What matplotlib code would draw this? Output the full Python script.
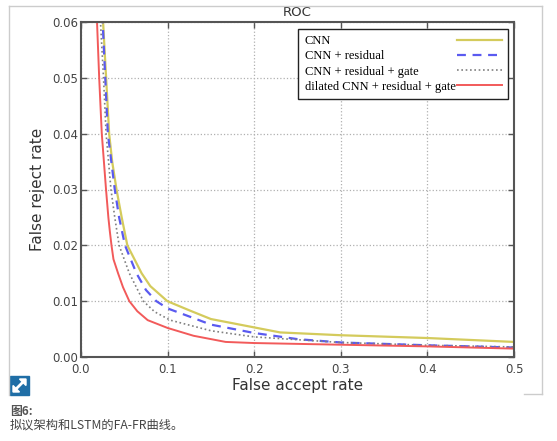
import matplotlib
matplotlib.use("Agg")
import matplotlib.pyplot as plt
from matplotlib.patches import Rectangle, Polygon
from matplotlib.lines import Line2D

# ROC curves (false accept rate vs false reject rate)
cnn_fa = [0.022, 0.0255, 0.029, 0.0325, 0.036, 0.041, 0.047, 0.0535, 0.070, 0.08, 0.0997, 0.126, 0.15, 0.2, 0.23, 0.3, 0.4, 0.5]
cnn_fr = [0.075, 0.06, 0.05, 0.04, 0.035, 0.03, 0.025, 0.02, 0.015, 0.0127, 0.01, 0.0083, 0.0068, 0.0053, 0.0044, 0.0039, 0.0034, 0.0027]

res_fa = [0.021, 0.025, 0.028, 0.031, 0.039, 0.044, 0.0508, 0.064, 0.075, 0.087, 0.1, 0.126, 0.15, 0.2, 0.25, 0.3, 0.4, 0.5]
res_fr = [0.075, 0.06, 0.05, 0.04, 0.03, 0.025, 0.02, 0.015, 0.012, 0.01, 0.0087, 0.0072, 0.0058, 0.0043, 0.0032, 0.0026, 0.0021, 0.0017]

gate_fa = [0.019, 0.0225, 0.026, 0.029, 0.0346, 0.039, 0.044, 0.0558, 0.072, 0.085, 0.103, 0.15, 0.2, 0.3, 0.4, 0.5]
gate_fr = [0.075, 0.06, 0.05, 0.04, 0.03, 0.025, 0.02, 0.015, 0.01, 0.0081, 0.0066, 0.0047, 0.0036, 0.0026, 0.0021, 0.0018]

dil_fa = [0.015, 0.0185, 0.021, 0.024, 0.0289, 0.0316, 0.0333, 0.0352, 0.0375, 0.0428, 0.0485, 0.0558, 0.065, 0.077, 0.1, 0.13, 0.167, 0.2, 0.3, 0.4, 0.5]
dil_fr = [0.075, 0.06, 0.05, 0.04, 0.03, 0.025, 0.0225, 0.02, 0.0175, 0.015, 0.0125, 0.01, 0.0082, 0.0066, 0.0052, 0.0038, 0.0027, 0.0025, 0.0022, 0.0019, 0.0015]

labels = ["CNN", "CNN + residual", "CNN + residual + gate", "dilated CNN + residual + gate"]
x_ticks = [0.0, 0.1, 0.2, 0.3, 0.4, 0.5]
y_ticks = [0.00, 0.01, 0.02, 0.03, 0.04, 0.05, 0.06]

plt.rcParams['font.family'] = ['DejaVu Sans']

fig = plt.figure(figsize=(5.57, 4.41), dpi=100)
ax = fig.add_axes([81/557, 1 - 357/441, 433/557, 335/441])

ax.plot(cnn_fa, cnn_fr, color='#d4cb5c', lw=1.6, label=labels[0])
ax.plot(res_fa, res_fr, color='#5a5af0', lw=1.6, ls=(0, (4, 3)), label=labels[1])
ax.plot(gate_fa, gate_fr, color='#808080', lw=1.2, ls=(0, (1, 1.6)), label=labels[2])
ax.plot(dil_fa, dil_fr, color='#f25a5a', lw=1.4, label=labels[3])

ax.set_xlim(0, 0.5)
ax.set_ylim(0, 0.06)
ax.set_xticks(x_ticks)
ax.set_yticks(y_ticks)
ax.set_xticklabels(["%.1f" % v for v in x_ticks])
ax.set_yticklabels(["%.2f" % v for v in y_ticks])
ax.tick_params(direction='in', top=True, right=True, length=4, width=1,
               color='#555555', labelsize=8.5, labelcolor='#444444', pad=2)
ax.tick_params(axis='x', pad=4)
ax.grid(True, color='#b0b0b0', ls=':', lw=0.9)
for sp in ax.spines.values():
    sp.set_color('#555555')
    sp.set_linewidth(1.5)

ax.set_title("ROC", fontsize=9.5, color='#333333', pad=4)
ax.set_xlabel("False accept rate", fontsize=11, color='#333333', labelpad=2)
ax.set_ylabel("False reject rate", fontsize=11, color='#333333', labelpad=5)

leg = ax.legend(loc='upper right', bbox_to_anchor=(0.986, 0.979), borderaxespad=0,
                prop={'family': 'Liberation Serif', 'size': 9}, markerfirst=False,
                fancybox=False, edgecolor='#222222', framealpha=1,
                handlelength=3.6, handletextpad=0.1, labelspacing=0.25, borderpad=0.5)
leg.get_frame().set_linewidth(1.0)

# left-align the legend texts while keeping the line samples in one column on the right
fig.canvas.draw()
renderer = fig.canvas.get_renderer()
widths = [t.get_window_extent(renderer).width for t in leg.get_texts()]
column = leg._legend_handle_box.get_children()[0]
column.align = 'left'
base_sep = 0.1 * 9
for row, w in zip(column.get_children(), widths):
    row.sep = base_sep + (max(widths) - w) * 72 / fig.dpi


def px(x, y):
    # pixel position (from top-left) -> figure fraction
    return (x / 557, 1 - y / 441)


# light grey frame around the chart picture
bc = '#cccccc'
for (x0, y0), (x1, y1) in [((9, 6), (542, 6)), ((9, 6), (9, 395)),
                           ((542, 6), (542, 394)), ((524, 394), (542, 394))]:
    a, b = px(x0, y0), px(x1, y1)
    fig.add_artist(Line2D([a[0], b[0]], [a[1], b[1]], color=bc, lw=1, transform=fig.transFigure))

# expand icon
fig.add_artist(Rectangle(px(10, 395), 19/557, 19/441, color='#1f6ea6', transform=fig.transFigure))
a, b = px(15, 390), px(24, 381)
fig.add_artist(Line2D([a[0], b[0]], [a[1], b[1]], color='white', lw=2, transform=fig.transFigure))
fig.add_artist(Polygon([px(26, 379), px(19.5, 379), px(26, 385.5)], closed=True, color='white',
                       transform=fig.transFigure))
fig.add_artist(Polygon([px(13, 392), px(19.5, 392), px(13, 385.5)], closed=True, color='white',
                       transform=fig.transFigure))

# caption
cjk = ['Noto Sans CJK SC', 'DejaVu Sans']
fig.text(10/557, 1 - 411/441, "图6:", family=cjk, fontsize=8.5, weight='bold',
         color='#555555', va='center', ha='left')
fig.text(10/557, 1 - 425/441, "拟议架构和LSTM的FA-FR曲线。", family=cjk, fontsize=8.8,
         color='#444444', va='center', ha='left')

fig.savefig("out.png", dpi=100)
